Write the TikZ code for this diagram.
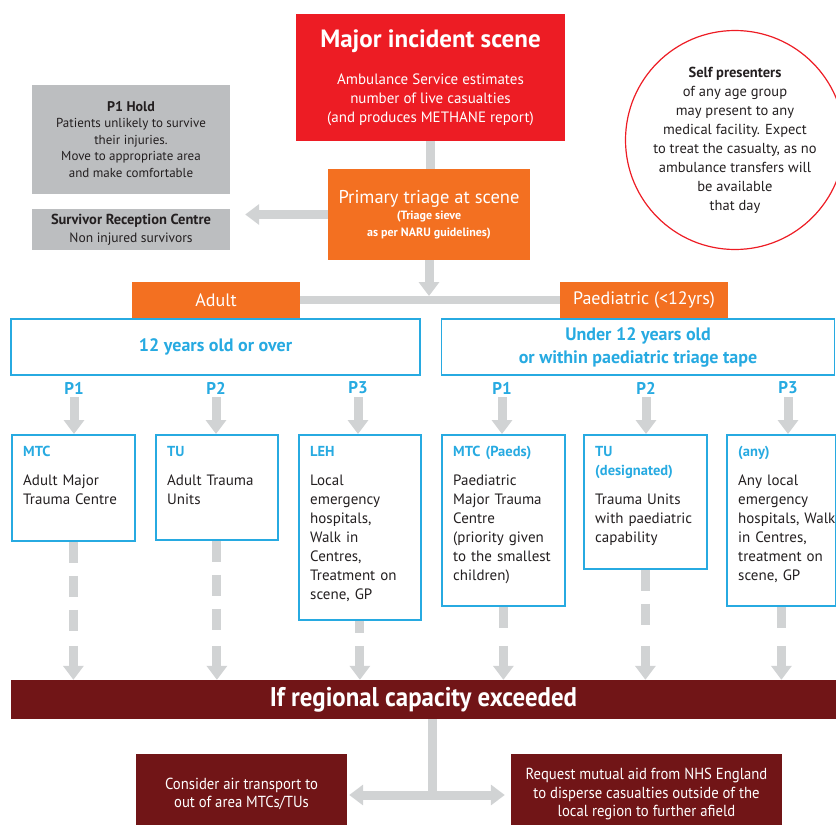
\documentclass[tikz,border=0pt]{standalone}
\usepackage{fontspec}
\setmainfont{PT Sans}
\newfontfamily\condfont[FakeStretch=0.92]{PT Sans}
\usetikzlibrary{arrows.meta}

\definecolor{incred}{HTML}{ED1C24}
\definecolor{triorange}{HTML}{F37021}
\definecolor{holdgray}{HTML}{BCBEC0}
\definecolor{linkgray}{HTML}{D1D3D4}
\definecolor{agblue}{HTML}{27AAE1}
\definecolor{capred}{HTML}{711517}
\definecolor{darktext}{HTML}{231F20}

\newcommand\fsz[2]{\fontsize{#1}{#2}\selectfont}

\tikzset{
	fillbox/.style={inner sep=0pt, align=center, text=white},
	holdbox/.style={fill=holdgray, inner sep=0pt, align=center, text=darktext},
	tagbox/.style={fillbox, fill=triorange, font=\fsz{18}{20}},
	agebox/.style={draw=agblue, line width=1.8pt, inner sep=0pt, align=center,
			text=agblue, font=\bfseries\fsz{18}{23}},
	catbox/.style={draw=agblue, line width=1.8pt, inner sep=0pt},
	capbox/.style={fillbox, fill=capred},
	conn/.style={draw=linkgray, line width=9pt},
	arr/.style={conn, -{Triangle[width=20pt,length=14pt]}},
	dline/.style={conn, dash pattern=on 21pt off 13pt}
}

\begin{document}
\begin{tikzpicture}[x=1pt, y=-1pt]
	\useasboundingbox (0,0) rectangle (836,825);

	% scene and triage
	\node[fillbox, fill=incred, minimum width=269pt, minimum height=127pt,
		font=\fsz{15}{19}] (scene) at (430.5,77.5)
	{{\bfseries\fsz{25}{28}Major incident scene}\\[18pt]
		Ambulance Service estimates\\number of live casualties\\(and produces METHANE report)};
	\node[fillbox, fill=triorange, minimum width=202pt, minimum height=91pt,
		font=\bfseries\fsz{12}{17}] (triage) at (429,214.5)
	{{\mdseries\fsz{18.5}{20}Primary triage at scene}\\[-1pt]
		(Triage sieve\\as per NARU guidelines)};

	\node[holdbox, minimum width=198pt, minimum height=109pt, font=\fsz{13}{16.5}]
	(hold) at (131,139.5)
	{{\bfseries\fsz{14}{16.5}P1 Hold}\\Patients unlikely to survive\\their injuries.\\
		Move to appropriate area\\and make comfortable};
	\node[holdbox, minimum width=198pt, minimum height=41pt, font=\fsz{13.5}{18}]
	(src) at (131,229.5)
	{{\bfseries\fsz{14.5}{18}Survivor Reception Centre}\\Non injured survivors};

	\node[circle, draw=incred, line width=1.2pt, minimum size=200pt, inner sep=0pt,
		align=center, text=darktext, font=\fsz{14.5}{19}] (self) at (735,140)
	{{\bfseries Self presenters}\\of any age group\\may present to any\\
		medical facility. Expect\\to treat the casualty, as no\\
		ambulance transfers will\\be available\\that day};

	% age groups
	\node[tagbox, minimum width=168pt, minimum height=36pt] (adult) at (216,300) {Adult};
	\node[tagbox, minimum width=168pt, minimum height=36pt] (paed) at (644,300)
	{Paediatric (<12yrs)};
	\node[agebox, minimum width=409pt, minimum height=56pt] (adultage) at (215.5,347)
	{12 years old or over};
	\node[agebox, minimum width=393pt, minimum height=56pt] (paedage) at (638,347)
	{Under 12 years old\\or within paediatric triage tape};

	\foreach \n/\x/\t in {pa1/74/P1, pa2/216/P2, pa3/358/P3,
			pp1/502/P1, pp2/646/P2, pp3/788/P3}
	\node[text=agblue, font=\bfseries\fsz{17}{18}, inner sep=1pt] (\n) at (\x,388) {\t};

	% receiving units
	\foreach \n/\x/\w/\h/\hd/\bd in {
			mtc/11/123/106/{MTC}/{Adult Major\\Trauma Centre},
			tu/155/122/105/{TU}/{Adult Trauma\\Units},
			leh/298/122/185/{LEH}/{Local\\emergency\\hospitals,\\Walk in\\Centres,\\Treatment on\\scene, GP},
			mtcp/441/123/171/{MTC (Paeds)}/{Paediatric\\Major Trauma\\Centre\\(priority given\\to the smallest\\children)},
			tup/583/123/134/{TU\\(designated)}/{Trauma Units\\with paediatric\\capability},
			any/726/109/171/{(any)}/{Any local\\emergency\\hospitals, Walk\\in Centres,\\treatment on\\scene, GP}}{
			\node[catbox, anchor=north west, minimum width=\w pt, minimum height=\h pt]
			(\n) at (\x,434) {};
			\node[anchor=north west, inner sep=0pt, text width=120pt, align=left,
				text=darktext, font=\fsz{15}{19}] (\n-t) at (\x+12,446)
			{{\color{agblue}\bfseries\fsz{14.5}{19}\hd}\\[10pt]\bd};
		}

	\node[capbox, minimum width=825pt, minimum height=39pt,
		font=\condfont\bfseries\fsz{27}{30}] (cap) at (423.5,699.5)
	{If regional capacity exceeded};
	\node[capbox, minimum width=211pt, minimum height=80pt,
		font=\condfont\fsz{16}{18}] (air) at (241.5,794)
	{Consider air transport to\\out of area MTCs/TUs};
	\node[capbox, minimum width=271pt, minimum height=80pt,
		font=\condfont\fsz{16}{18.5}] (aid) at (646.5,794)
	{Request mutual aid from NHS England\\to disperse casualties outside of the\\local region to further afield};

	% connectors
	\draw[conn] (scene.south) -- (scene.south |- triage.north);
	\draw[arr, shorten >=15pt] (triage.west) -- (src.east |- triage.west);
	\coordinate (fork) at (triage.south |- adult.east);
	\draw[arr, shorten >=4pt] (triage.south) -- (fork);
	\draw[conn, line width=8pt] (adult.east) -- (paed.west);

	\foreach \p/\n in {pa1/mtc, pa2/tu, pa3/leh, pp1/mtcp, pp2/tup, pp3/any}
	\draw[arr] ([yshift=-2pt]\p.south) -- (\p |- \n.north);

	\foreach \n in {mtc,tu,leh,mtcp,tup,any}{
			\draw[dline] (\n.south) -- ([yshift=47pt]\n.south |- cap.north);
			\draw[arr] ([yshift=34pt]\n.south |- cap.north) -- (\n.south |- cap.north);
		}

	\coordinate (split) at (432,795);
	\draw[conn] (split |- cap.south) -- (split);
	\draw[conn, {Triangle[width=20pt,length=14pt]}-{Triangle[width=20pt,length=14pt]},
		shorten <=2pt, shorten >=6pt] (air.east |- split) -- (aid.west |- split);
\end{tikzpicture}
\end{document}
